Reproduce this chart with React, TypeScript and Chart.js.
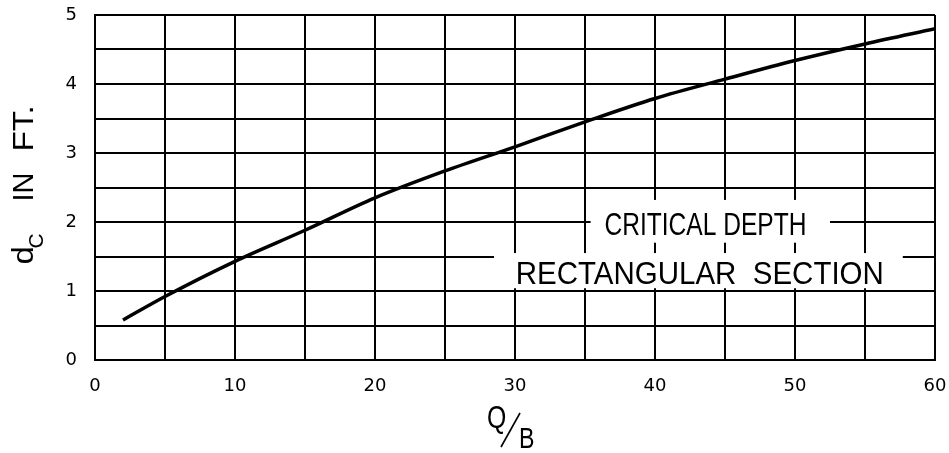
import React, { useEffect, useRef } from "react";
import { Chart, registerables } from "chart.js";

Chart.register(...registerables);

// Discharge per unit width, Q/B (x) and critical depth d_c in ft (y)
const flowPerWidth = [2, 5, 10, 15, 20, 25, 30, 35, 40, 45, 50, 55, 60];
const criticalDepth = [0.58, 0.92, 1.43, 1.88, 2.35, 2.74, 3.09, 3.45, 3.79, 4.07, 4.34, 4.58, 4.8];

const xTickStep = 5;
const xLabelEvery = 10;
const yTickStep = 0.5;

const noteLine1 = "CRITICAL DEPTH";
const noteLine2 = "RECTANGULAR  SECTION";

const TEXT_FONT = '"Liberation Sans", Arimo, sans-serif';
const TICK_FONT = '"DejaVu Sans", sans-serif';

function fitText(ctx: CanvasRenderingContext2D, text: string, cx: number, baseY: number, width: number, size: number) {
  ctx.save();
  ctx.font = `${size}px ${TEXT_FONT}`;
  const w = ctx.measureText(text).width;
  const f = width / w;
  ctx.translate(cx, baseY);
  ctx.scale(f, 1);
  ctx.textAlign = "center";
  ctx.textBaseline = "alphabetic";
  ctx.fillStyle = "#000";
  ctx.fillText(text, 0, 0);
  ctx.restore();
}

function narrowText(ctx: CanvasRenderingContext2D, text: string, x: number, y: number, size: number, sx: number) {
  ctx.save();
  ctx.font = `${size}px ${TEXT_FONT}`;
  ctx.translate(x, y);
  ctx.scale(sx, 1);
  ctx.textAlign = "left";
  ctx.textBaseline = "alphabetic";
  ctx.fillStyle = "#000";
  ctx.fillText(text, 0, 0);
  ctx.restore();
}

const notePlugin = {
  id: "notePlugin",
  beforeDatasetsDraw(chart: any) {
    const { ctx, scales } = chart;
    const xs = scales.x;
    const ys = scales.y;
    const px = (v: number) => xs.getPixelForValue(v);
    const py = (v: number) => ys.getPixelForValue(v);
    ctx.save();
    ctx.fillStyle = "#fff";
    // white masks behind the note
    ctx.fillRect(px(35.4), py(2.32), px(52.5) - px(35.4), py(1.7) - py(2.32));
    ctx.fillRect(px(28.5), py(1.55), px(57.7) - px(28.5), py(1.04) - py(1.55));
    ctx.restore();
    fitText(ctx, noteLine1, px(43.6), py(1.81), 202, 31);
    fitText(ctx, noteLine2, px(43.2), py(1.1), 368, 31);
  },
  afterDraw(chart: any) {
    const { ctx, chartArea } = chart;
    // Y axis title: d_C IN FT.
    const cy = (chartArea.top + chartArea.bottom) / 2;
    ctx.save();
    ctx.translate(33, cy + 77);
    ctx.rotate(-Math.PI / 2);
    narrowText(ctx, "d", 0, 0, 30, 1.1);
    narrowText(ctx, "C", 16, 10, 21, 1.0);
    narrowText(ctx, "IN", 63, 0, 29, 1.0);
    narrowText(ctx, "FT.", 113, 0, 29, 1.15);
    ctx.restore();

    // X axis title: Q/B
    const cx = (chartArea.left + chartArea.right) / 2;
    ctx.save();
    narrowText(ctx, "Q", cx - 28, 428, 31, 0.8);
    narrowText(ctx, "B", cx + 4, 448, 29, 0.8);
    ctx.strokeStyle = "#000";
    ctx.lineWidth = 1.6;
    ctx.beginPath();
    ctx.moveTo(cx - 14, 447);
    ctx.lineTo(cx + 5, 413);
    ctx.stroke();
    ctx.restore();
  },
};

const zeroPad = (s: any) => {
  s.paddingTop = 0;
  s.paddingBottom = 0;
  s.paddingLeft = 0;
  s.paddingRight = 0;
};

export default function App() {
  const canvasRef = useRef<HTMLCanvasElement | null>(null);

  useEffect(() => {
    if (!canvasRef.current) return;
    const chart = new Chart(canvasRef.current, {
      type: "line",
      data: {
        datasets: [
          {
            data: flowPerWidth.map((x, i) => ({ x, y: criticalDepth[i] })),
            borderColor: "#000",
            borderWidth: 3.5,
            pointRadius: 0,
            cubicInterpolationMode: "monotone",
            fill: false,
          },
        ],
      },
      options: {
        animation: false,
        responsive: false,
        maintainAspectRatio: false,
        layout: { padding: { top: 15, right: 14, left: 0, bottom: 0 } },
        plugins: { legend: { display: false }, tooltip: { enabled: false }, title: { display: false } },
        scales: {
          x: {
            type: "linear",
            min: 0,
            max: 60,
            afterFit: (s: any) => {
              s.height = 93;
              zeroPad(s);
            },
            ticks: {
              stepSize: xTickStep,
              autoSkip: false,
              maxRotation: 0,
              padding: 16,
              color: "#000",
              font: { family: TICK_FONT, size: 18 },
              callback: (v: any) => (Number(v) % xLabelEvery === 0 ? String(v) : ""),
            },
            grid: { color: "#000", lineWidth: 2, drawTicks: false },
            border: { color: "#000", width: 2 },
          },
          y: {
            type: "linear",
            min: 0,
            max: 5,
            afterFit: (s: any) => {
              s.width = 95;
              zeroPad(s);
            },
            ticks: {
              stepSize: yTickStep,
              autoSkip: false,
              padding: 18,
              color: "#000",
              font: { family: TICK_FONT, size: 18 },
              callback: (v: any) => (Number.isInteger(Number(v)) ? String(v) : ""),
            },
            grid: { color: "#000", lineWidth: 2, drawTicks: false },
            border: { color: "#000", width: 2 },
          },
        },
      },
      plugins: [notePlugin],
    });
    return () => chart.destroy();
  }, []);

  return (
    <div style={{ position: "fixed", left: 0, top: 0, width: 949, height: 453, background: "#fff" }}>
      <canvas ref={canvasRef} width={949} height={453} style={{ width: 949, height: 453 }} />
    </div>
  );
}
